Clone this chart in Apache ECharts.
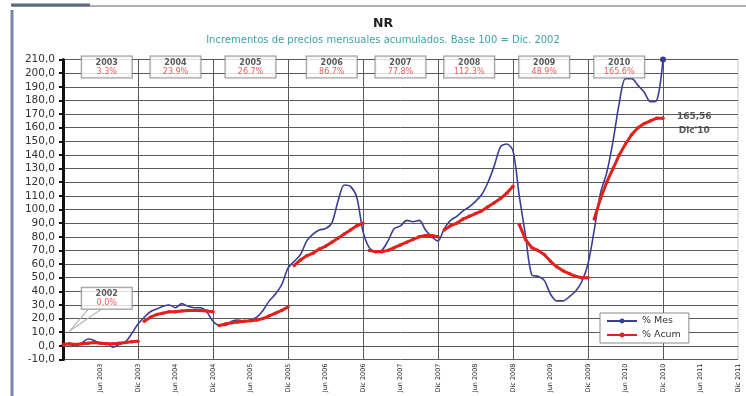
<!DOCTYPE html>
<html><head><meta charset="utf-8">
<script src="https://cdn.jsdelivr.net/npm/echarts@6/dist/echarts.min.js"></script>
<style>html,body{margin:0;padding:0;background:#fff}#c{width:746px;height:396px}</style>
</head><body><div id="c"></div>
<script>
// ---- data ----
const monthNames = ['Dic','Ene','Feb','Mar','Abr','May','Jun','Jul','Ago','Sep','Oct','Nov'];
const firstYear = 2002, nMonths = 109; // Dic 2002 .. Dic 2011
const yTicks = {min: -10, max: 210, interval: 10};

// % Mes (monthly index), Dic 2002 .. Dic 2010
const mes = [
  1, 1, 0, 2, 5, 4, 2, 2, -1, 1, 3, 9, 16,
  21, 25, 27, 29, 30, 28, 31, 29, 28, 28, 25, 18,
  15, 15, 18, 19, 18, 19, 21, 26, 33, 38, 45, 57,
  62, 67, 77, 82, 85, 86, 90, 106, 118, 117, 109, 84,
  72, 69, 70, 77, 86, 88, 92, 91, 92, 85, 80, 77,
  86, 92, 95, 99, 102, 106, 111, 120, 132, 146, 148, 143,
  110, 81, 52, 51, 48, 38, 33, 33, 36, 40, 47, 60,
  85, 112, 127, 150, 178, 196, 196, 191, 186, 179, 180, 210
];
// % Acum (accumulated within each year)
const acum2003 = [1, 1.5, 1, 1.5, 2, 2.5, 2, 1.5, 1.5, 2, 2.5, 3, 3.3]; // Dic02..Dic03
const acum2004 = [18, 21, 23, 24, 25, 25, 25.5, 26, 26, 26, 25.5, 25];
const acum2005 = [15, 16, 17, 17.5, 18, 18.5, 19, 20, 22, 24, 26, 28.5];
const acum2006 = [59, 63, 66, 68, 71, 73, 76, 79, 82, 85, 88, 90];
const acum2007 = [70, 69, 69, 70, 72, 74, 76, 78, 80, 81, 81, 80];
const acum2008 = [85, 88, 90, 93, 95, 97, 99, 102, 105, 108, 112, 117];
const acum2009 = [89, 78, 72, 70, 67, 62, 58, 55, 53, 51, 50, 50];
const acum2010 = [93, 108, 120, 130, 140, 148, 155, 160, 163, 165, 167, 167];

const boxYears = ['2003','2004','2005','2006','2007','2008','2009','2010'];
const boxPct = ['3.3%','23.9%','26.7%','86.7%','77.8%','112.3%','48.9%','165.6%'];
const box2002 = {year: '2002', pct: '0.0%'};
const lastLabel = ['165,56', "Dic'10"];

// ---- layout (annotation placement in data space) ----
const boxX = [7, 18, 30, 43, 54, 65, 77, 89];
const boxY = 204.5;
const box2002Pos = [7, 35];
const calloutPath = [[5.5, 26.5], [1.1, 10.7], [3.8, 26.5]];
const lastLabelPos = [101, 163];

// ---- build ----
const categories = [];
for (let i = 0; i < nMonths; i++) {
  const yr = (i % 12 === 0) ? firstYear + i / 12 : firstYear + 1 + Math.floor(i / 12);
  categories.push(monthNames[i % 12] + ' ' + yr);
}
const acumSegments = [
  {start: 0, vals: acum2003}, {start: 13, vals: acum2004}, {start: 25, vals: acum2005},
  {start: 37, vals: acum2006}, {start: 49, vals: acum2007}, {start: 61, vals: acum2008},
  {start: 73, vals: acum2009}, {start: 85, vals: acum2010}
];
const mesAll = new Array(nMonths).fill(null);
mes.forEach((v, k) => mesAll[k] = v);

const RED = '#e3201b', BLUE = '#3a3d96';
const FONT = 'DejaVu Sans, Verdana, sans-serif';
const boxLabel = {
  show: true, position: 'inside',
  backgroundColor: '#fff', borderColor: '#7a7a7a', borderWidth: 1,
  padding: [2, 5, 1, 5], width: 40, align: 'center',
  rich: {
    y: {fontSize: 8, fontWeight: 'bold', color: '#333', lineHeight: 9, align: 'center', fontFamily: FONT},
    p: {fontSize: 8, color: '#f03030', lineHeight: 9, align: 'center', fontFamily: FONT}
  }
};

const redSeries = acumSegments.map(seg => {
  const d = new Array(nMonths).fill(null);
  seg.vals.forEach((v, k) => d[seg.start + k] = v);
  return {
    name: '% Acum', type: 'line', data: d, connectNulls: false,
    showAllSymbol: true, symbol: 'circle', symbolSize: 3.5,
    lineStyle: {color: RED, width: 3}, itemStyle: {color: RED}, z: 4
  };
});

const chart = echarts.init(document.getElementById('c'), null, {renderer: 'canvas'});
chart.setOption({
  animation: false,
  textStyle: {fontFamily: FONT},
  title: {
    text: 'NR', left: 378, top: 12, textAlign: 'center', itemGap: 5,
    textStyle: {fontSize: 12.5, fontWeight: 'bold', color: '#222', fontFamily: FONT},
    subtext: 'Incrementos de precios mensuales acumulados. Base 100 = Dic. 2002',
    subtextStyle: {fontSize: 10, color: '#3aa5a8', fontFamily: FONT}
  },
  graphic: [
    {type: 'line', shape: {x1: 12, y1: 10, x2: 12, y2: 396}, style: {stroke: '#7088ab', lineWidth: 3}, silent: true},
    {type: 'line', shape: {x1: 12, y1: 6, x2: 746, y2: 6}, style: {stroke: '#b0b0b0', lineWidth: 2}, silent: true},
    {type: 'line', shape: {x1: 11, y1: 5, x2: 90, y2: 5}, style: {stroke: '#5d6a80', lineWidth: 3}, silent: true}
  ],
  legend: {
    data: ['% Mes', '% Acum'], orient: 'vertical', left: 600, top: 313,
    backgroundColor: '#fff', borderColor: '#8a8a8a', borderWidth: 1,
    padding: [3, 8, 3, 6], itemGap: 4, itemWidth: 30, itemHeight: 6,
    textStyle: {fontSize: 9.5, color: '#333', fontFamily: FONT}
  },
  grid: {left: 63, right: 8, top: 59.5, bottom: 36.5, containLabel: false,
    show: true, borderColor: '#c8c8c8', borderWidth: 1, backgroundColor: '#fff'},
  xAxis: {
    type: 'category', data: categories, boundaryGap: false,
    axisLine: {show: true, lineStyle: {color: '#555', width: 1}},
    axisTick: {show: false},
    axisLabel: {
      interval: (i) => i > 0 && i % 6 === 0,
      rotate: 90, fontSize: 6.5, color: '#222', margin: 4, fontFamily: FONT
    },
    splitLine: {show: true, interval: (i) => i % 12 === 0 && i < nMonths - 1, lineStyle: {color: '#5a5a5a', width: 1}}
  },
  yAxis: {
    type: 'value', min: yTicks.min, max: yTicks.max, interval: yTicks.interval,
    axisLine: {show: true, lineStyle: {color: '#111', width: 3}},
    axisTick: {show: true, inside: false, length: 4, lineStyle: {color: '#111', width: 2}},
    axisLabel: {fontSize: 10.5, color: '#333', margin: 8, fontFamily: FONT,
      formatter: v => v.toFixed(1).replace('.', ',')},
    splitLine: {show: true, lineStyle: {color: '#5a5a5a', width: 1}}
  },
  series: [
    {
      name: '% Mes', type: 'line', data: mesAll, smooth: 0.3,
      showAllSymbol: true, symbol: 'circle',
      symbolSize: (v, p) => p.dataIndex === mes.length - 1 ? 6 : 0,
      lineStyle: {color: BLUE, width: 1.6}, itemStyle: {color: BLUE}, z: 3
    }
  ].concat(redSeries).concat([
    {
      type: 'line', data: calloutPath, silent: true, symbol: 'none',
      lineStyle: {color: '#b8b8b8', width: 1.2}, z: 5
    },
    {
      type: 'scatter', silent: true, symbolSize: 1, itemStyle: {color: 'rgba(0,0,0,0)'}, z: 6,
      data: boxYears.map((y, i) => ({value: [boxX[i], boxY], yr: y, pct: boxPct[i]}))
        .concat([{value: box2002Pos, yr: box2002.year, pct: box2002.pct}]),
      label: Object.assign({}, boxLabel, {formatter: p => '{y|' + p.data.yr + '}\n{p|' + p.data.pct + '}'})
    },
    {
      type: 'scatter', silent: true, symbolSize: 1, itemStyle: {color: 'rgba(0,0,0,0)'}, z: 6,
      data: [lastLabelPos],
      label: {show: true, position: 'inside', formatter: lastLabel.join('\n'),
        fontSize: 9, fontWeight: 'bold', color: '#333', lineHeight: 14, align: 'center', fontFamily: FONT}
    }
  ])
});
</script></body></html>
